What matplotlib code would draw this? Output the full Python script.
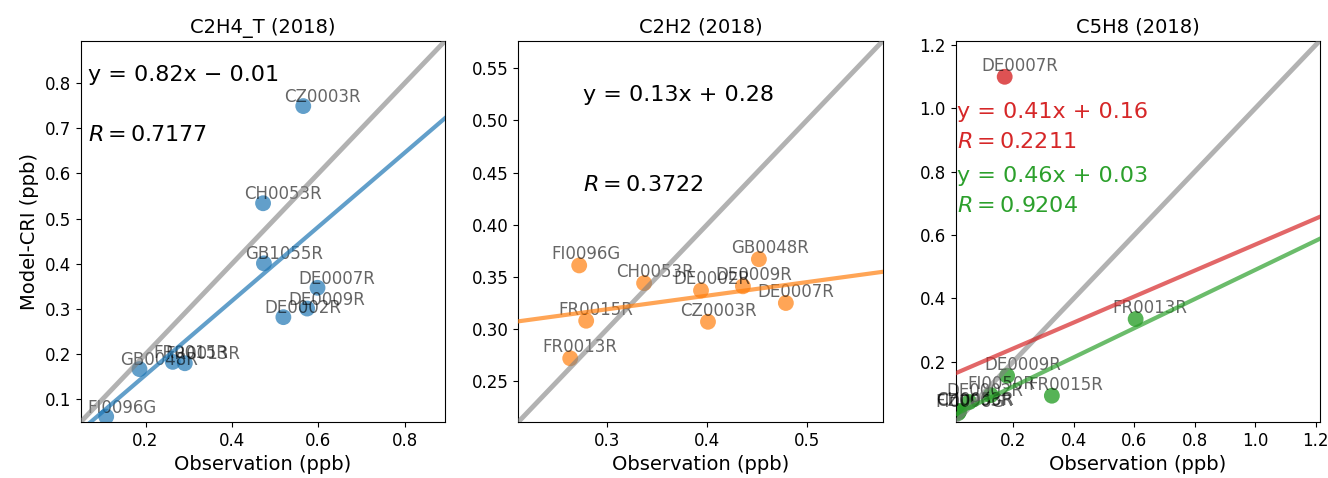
import matplotlib
matplotlib.use("Agg")
import matplotlib.pyplot as plt
import numpy as np

plt.rcParams['font.family'] = ['DejaVu Sans']

# ---- Panel 1: C2H4_T ----
p1_title = "C2H4_T (2018)"
p1_sites = ["CZ0003R", "CH0053R", "GB1055R", "DE0007R", "DE0009R", "DE0002R",
            "GB0048R", "FR0015R", "FR0013R", "FI0096G"]
p1_obs = [0.565, 0.472, 0.474, 0.598, 0.574, 0.519, 0.186, 0.263, 0.291, 0.109]
p1_mod = [0.749, 0.534, 0.401, 0.347, 0.301, 0.282, 0.167, 0.183, 0.180, 0.062]
p1_fit = [0.82, -0.01]
p1_r = 0.7177
p1_lim = [0.05, 0.893]

# ---- Panel 2: C2H2 ----
p2_title = "C2H2 (2018)"
p2_sites = ["FI0096G", "CH0053R", "FR0015R", "FR0013R", "GB0048R", "DE0002R",
            "DE0009R", "DE0007R", "CZ0003R"]
p2_obs = [0.272, 0.337, 0.279, 0.263, 0.452, 0.394, 0.436, 0.479, 0.401]
p2_mod = [0.361, 0.344, 0.308, 0.272, 0.367, 0.337, 0.341, 0.325, 0.307]
p2_fit = [0.13, 0.28]
p2_r = 0.3722
p2_lim = [0.211, 0.576]

# ---- Panel 3: C5H8 ----
p3_title = "C5H8 (2018)"
p3_sites = ["DE0007R", "FR0013R", "FR0015R", "DE0009R", "FI0050R", "DE0002R",
            "CH0053R", "FI0096G", "CZ0003R"]
p3_obs = [0.172, 0.605, 0.328, 0.180, 0.126, 0.055, 0.022, 0.018, 0.020]
p3_mod = [1.100, 0.335, 0.093, 0.156, 0.095, 0.073, 0.045, 0.038, 0.042]
p3_fit_all = [0.41, 0.16]
p3_r_all = 0.2211
p3_fit_sub = [0.46, 0.03]
p3_r_sub = 0.9204
p3_outlier = "DE0007R"
p3_lim = [0.01, 1.213]

W, H = 1328, 478
fig = plt.figure(figsize=(W / 100, H / 100), dpi=100)

def px_axes(left, right, top, bottom):
    return fig.add_axes([left / W, 1 - bottom / H, (right - left) / W, (bottom - top) / H])

ax1 = px_axes(80.7, 445, 41, 422)
ax2 = px_axes(518.3, 882.7, 41, 422)
ax3 = px_axes(955.7, 1319.5, 41, 422)

lab_kw = dict(fontsize=12, color='black', alpha=0.6, textcoords='offset pixels',
              ha='left', va='baseline')

def setup(ax, title, lim):
    ax.plot(lim, lim, color='gray', alpha=0.6, lw=3.5, zorder=3)
    ax.set_xlim(lim)
    ax.set_ylim(lim)
    ax.set_title(title, fontsize=14)
    ax.set_xlabel("Observation (ppb)", fontsize=14)
    ax.tick_params(labelsize=12)

def points(ax, sites, obs, mod, color, off, alpha=0.7):
    ax.scatter(obs, mod, s=130, color=color, alpha=alpha, edgecolors='none', zorder=2)
    for s, x, y in zip(sites, obs, mod):
        ax.annotate(s, (x, y), xytext=off, **lab_kw)

def fit_line(ax, fit, lim, color):
    xs = np.array(lim)
    ax.plot(xs, fit[0] * xs + fit[1], color=color, alpha=0.7, lw=3, zorder=4)

# Panel 1
points(ax1, p1_sites, p1_obs, p1_mod, 'tab:blue', (-19, 4))
setup(ax1, p1_title, p1_lim)
fit_line(ax1, p1_fit, p1_lim, 'tab:blue')
ax1.set_ylabel("Model-CRI (ppb)", fontsize=14)
ax1.text(0.02, 0.91, "y = %.2fx \u2212 %.2f" % (p1_fit[0], abs(p1_fit[1])),
         transform=ax1.transAxes, fontsize=16, va='center', ha='left')
ax1.text(0.02, 0.753, r"$R = %.4f$" % p1_r, transform=ax1.transAxes,
         fontsize=16, va='center', ha='left')

# Panel 2
points(ax2, p2_sites, p2_obs, p2_mod, 'tab:orange', (-28, 6))
setup(ax2, p2_title, p2_lim)
fit_line(ax2, p2_fit, p2_lim, 'tab:orange')
ax2.text(0.178, 0.858, "y = %.2fx + %.2f" % (p2_fit[0], p2_fit[1]),
         transform=ax2.transAxes, fontsize=16, va='center', ha='left')
ax2.text(0.178, 0.622, r"$R = %.4f$" % p2_r, transform=ax2.transAxes,
         fontsize=16, va='center', ha='left')

# Panel 3: red = all sites (outlier visible), green = without outlier
out_s = [s for s in p3_sites if s == p3_outlier]
out_x = [x for s, x in zip(p3_sites, p3_obs) if s == p3_outlier]
out_y = [y for s, y in zip(p3_sites, p3_mod) if s == p3_outlier]
sub_s = [s for s in p3_sites if s != p3_outlier]
sub_x = [x for s, x in zip(p3_sites, p3_obs) if s != p3_outlier]
sub_y = [y for s, y in zip(p3_sites, p3_mod) if s != p3_outlier]
points(ax3, out_s, out_x, out_y, 'tab:red', (-23, 6), alpha=0.8)
points(ax3, sub_s, sub_x, sub_y, 'tab:green', (-23, 6), alpha=0.8)
setup(ax3, p3_title, p3_lim)
fit_line(ax3, p3_fit_all, p3_lim, 'tab:red')
fit_line(ax3, p3_fit_sub, p3_lim, 'tab:green')
ax3.text(0.003, 0.814, "y = %.2fx + %.2f" % (p3_fit_all[0], p3_fit_all[1]),
         transform=ax3.transAxes, fontsize=16, va='center', ha='left', color='tab:red')
ax3.text(0.003, 0.736, r"$R = %.4f$" % p3_r_all, transform=ax3.transAxes,
         fontsize=16, va='center', ha='left', color='tab:red')
ax3.text(0.003, 0.646, "y = %.2fx + %.2f" % (p3_fit_sub[0], p3_fit_sub[1]),
         transform=ax3.transAxes, fontsize=16, va='center', ha='left', color='tab:green')
ax3.text(0.003, 0.568, r"$R = %.4f$" % p3_r_sub, transform=ax3.transAxes,
         fontsize=16, va='center', ha='left', color='tab:green')

fig.savefig("out.png", dpi=100)
